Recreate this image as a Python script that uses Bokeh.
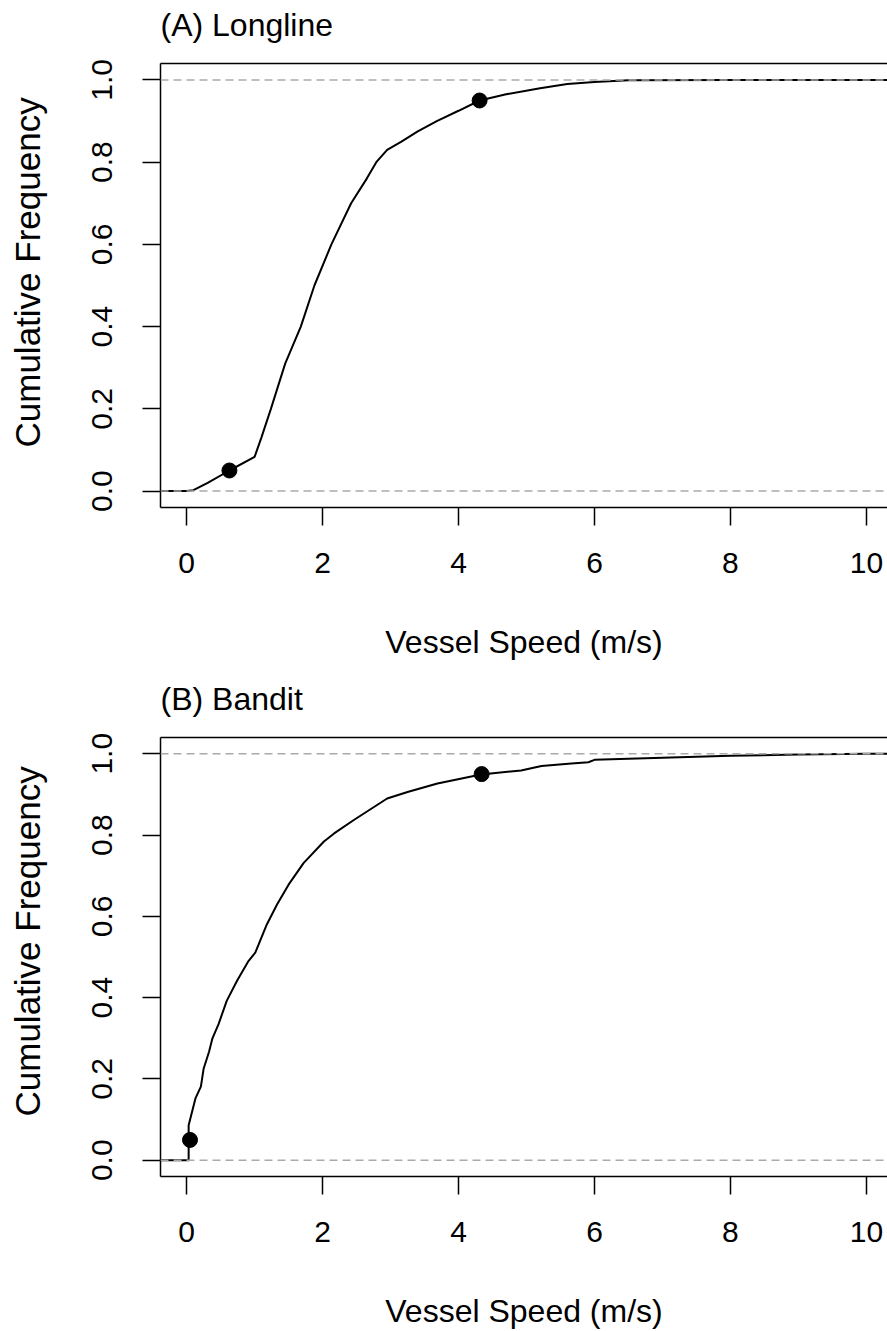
from bokeh.plotting import figure
from bokeh.layouts import column
from bokeh.models import Range1d, LinearAxis, FixedTicker, Span, Title, CustomJSTickFormatter
from bokeh.embed import file_html
from bokeh.resources import INLINE

# ---------------- data ----------------
x_ticks = [0, 2, 4, 6, 8, 10]
y_ticks = [0.0, 0.2, 0.4, 0.6, 0.8, 1.0]

longline_speed = [-0.5, 0.0, 0.1, 0.31, 0.63, 1.0, 1.1, 1.24, 1.45, 1.68, 1.88, 2.13, 2.42,
                  2.65, 2.79, 2.95, 3.16, 3.4, 3.68, 4.0, 4.31, 4.7, 5.2, 5.6, 6.0, 6.5, 8.0, 12.0]
longline_cum = [0.0, 0.0, 0.002, 0.02, 0.05, 0.083, 0.13, 0.2, 0.31, 0.4, 0.5, 0.6, 0.7,
                0.76, 0.8, 0.83, 0.85, 0.875, 0.9, 0.925, 0.95, 0.965, 0.98, 0.99, 0.995, 0.999, 1.0, 1.0]
longline_q_speed = [0.63, 4.31]
longline_q_cum = [0.05, 0.95]

bandit_speed = [-0.5, 0.0, 0.03, 0.03, 0.13, 0.21, 0.25, 0.33, 0.38, 0.47, 0.59, 0.74, 0.91,
                1.01, 1.06, 1.18, 1.33, 1.50, 1.72, 2.02, 2.17, 2.46, 2.95, 3.25, 3.69, 4.33,
                4.92, 5.22, 5.66, 5.91, 6.0, 7.0, 8.0, 9.0, 10.0, 12.0]
bandit_cum = [0.0, 0.0, 0.0, 0.086, 0.152, 0.181, 0.225, 0.267, 0.30, 0.335, 0.392, 0.441, 0.49,
              0.511, 0.531, 0.580, 0.629, 0.678, 0.731, 0.784, 0.804, 0.837, 0.890, 0.906, 0.927, 0.949,
              0.959, 0.970, 0.976, 0.979, 0.985, 0.99, 0.995, 0.998, 1.0, 1.0]
bandit_q_speed = [0.05, 4.34]
bandit_q_cum = [0.05, 0.95]

FONT = "Liberation Sans"


def spacer_axis(tick_at, extent, line_color):
    # an axis whose only (invisible) tick reserves `extent` pixels of border
    return LinearAxis(ticker=FixedTicker(ticks=[tick_at]), axis_line_width=1.5,
                      axis_line_color=line_color,
                      major_tick_out=extent, major_tick_in=0, minor_tick_out=0, minor_tick_in=0,
                      major_tick_line_color=None, minor_tick_line_color=None,
                      formatter=CustomJSTickFormatter(code="return '';"),
                      major_label_standoff=0, axis_label_standoff=0,
                      major_label_text_font_size="0px")


def panel(title, speed, cum, qx, qy, height, border_bottom):
    p = figure(width=887, height=height,
               x_range=Range1d(-0.384, 10.31), y_range=Range1d(-0.04, 1.04),
               output_backend="svg", toolbar_location=None,
               min_border_left=160, min_border_right=0, min_border_top=63,
               min_border_bottom=border_bottom)
    p.outline_line_color = None
    p.grid.visible = False
    p.background_fill_color = "white"
    p.border_fill_color = "white"

    p.title.text = title
    p.title.align = "left"
    p.title.text_font = FONT
    p.title.text_font_size = "32px"
    p.title.text_font_style = "normal"
    p.title.text_color = "black"
    p.title.standoff = 2

    p.line(speed, cum, line_color="black", line_width=2)
    p.scatter(qx, qy, size=15, fill_color="black", line_color="black")

    for yv in (0.0, 1.0):
        p.add_layout(Span(location=yv, dimension="width", line_color="#aaaaaa",
                          line_width=1.5, line_dash="8 5"))

    for ax in (p.xaxis[0], p.yaxis[0]):
        ax.axis_line_width = 1.5
        ax.axis_line_color = "black"
        ax.major_tick_line_width = 1.5
        ax.major_tick_line_color = "black"
        ax.major_tick_out = 18
        ax.major_tick_in = 0
        ax.minor_tick_out = 0
        ax.minor_tick_in = 0
        ax.major_label_text_font = FONT
        ax.major_label_text_font_size = "30px"
        ax.major_label_text_color = "black"
        ax.axis_label_text_font = FONT
        ax.axis_label_text_font_size = "32px"
        ax.axis_label_text_font_style = "normal"
        ax.axis_label_text_color = "black"

    p.xaxis.ticker = FixedTicker(ticks=x_ticks)
    p.xaxis.axis_label = "Vessel Speed (m/s)"
    p.xaxis.major_label_standoff = 27
    p.xaxis.axis_label_standoff = 48

    p.yaxis.ticker = FixedTicker(ticks=y_ticks)
    p.yaxis.formatter = CustomJSTickFormatter(code="return tick.toFixed(1);")
    p.yaxis.major_label_orientation = "vertical"
    p.yaxis.major_label_standoff = 30

    # top border of the box, also reserving room under the panel title
    p.add_layout(spacer_axis(5.0, 20, "black"), "above")
    # room between the tick labels and the y-axis title
    p.add_layout(spacer_axis(0.5, 40, None), "left")
    p.add_layout(Title(text="Cumulative Frequency", align="left", offset=60,
                       text_font=FONT, text_font_size="35px", text_font_style="normal",
                       text_color="black", standoff=6), "left")
    return p


pa = panel("(A) Longline", longline_speed, longline_cum, longline_q_speed, longline_q_cum, 674, 167)
pb = panel("(B) Bandit", bandit_speed, bandit_cum, bandit_q_speed, bandit_q_cum, 657, 154)

layout = column(pa, pb, spacing=0)
open("out.html", "w").write(file_html(layout, INLINE))
